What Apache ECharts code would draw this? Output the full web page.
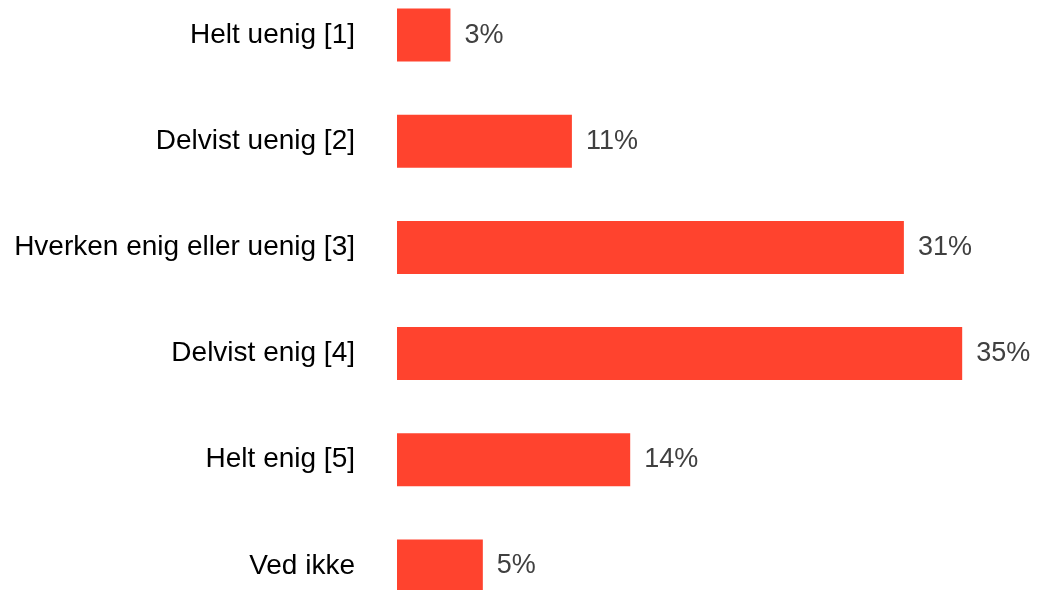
<!DOCTYPE html>
<html><head><meta charset="utf-8">
<script src="https://cdn.jsdelivr.net/npm/echarts@6/dist/echarts.min.js"></script>
<style>html,body{margin:0;padding:0;background:#fff;overflow:hidden;width:1037px;height:590px}
#c{position:absolute;left:0;top:-18px;width:1037px;height:640px}</style>
</head><body><div id="c"></div>
<script>
const categories = ["Helt uenig [1]", "Delvist uenig [2]", "Hverken enig eller uenig [3]", "Delvist enig [4]", "Helt enig [5]", "Ved ikke"];
const values = [3.3, 10.8, 31.3, 34.9, 14.4, 5.3];

const chart = echarts.init(document.getElementById('c'), null, {renderer: 'canvas'});
chart.setOption({
  animation: false,
  backgroundColor: '#fff',
  grid: {left: 397, right: 57, top: 0, height: 637, containLabel: false},
  xAxis: {type: 'value', min: 0, max: 36, show: false},
  yAxis: {
    type: 'category', data: categories, inverse: true,
    axisLine: {show: false}, axisTick: {show: false}, splitLine: {show: false},
    axisLabel: {margin: 42, color: '#000', fontSize: 28, fontFamily: 'Liberation Sans, Arial, sans-serif'}
  },
  series: [{
    type: 'bar', data: values, barWidth: 53,
    itemStyle: {color: '#ff432e'},
    label: {show: true, position: 'right', distance: 14, color: '#404040', fontSize: 27,
      fontFamily: 'Liberation Sans, Arial, sans-serif',
      formatter: p => Math.round(p.value) + '%'}
  }]
});
</script></body></html>
